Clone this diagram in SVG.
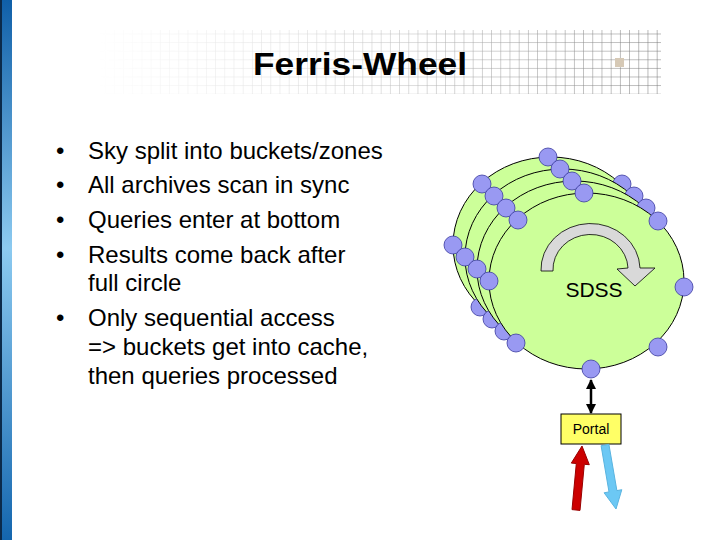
<svg xmlns="http://www.w3.org/2000/svg" width="720" height="540" viewBox="0 0 720 540">
<defs>
<linearGradient id="bar" x1="0" y1="0" x2="0" y2="1">
<stop offset="0" stop-color="#0f5fa8"/>
<stop offset="0.46" stop-color="#8ccaf0"/>
<stop offset="1" stop-color="#1466ae"/>
</linearGradient>
<linearGradient id="fadeG" x1="0" y1="0" x2="1" y2="0">
<stop offset="0" stop-color="#fff" stop-opacity="0"/>
<stop offset="0.35" stop-color="#fff" stop-opacity="0.25"/>
<stop offset="1" stop-color="#fff" stop-opacity="0.95"/>
</linearGradient>
<mask id="fade" maskUnits="userSpaceOnUse" x="0" y="0" width="720" height="540">
<rect x="95" y="28" width="566" height="68" fill="url(#fadeG)"/>
</mask>
<pattern id="grid" width="9.2" height="8.6" patternUnits="userSpaceOnUse" x="95.5" y="33.5">
<path d="M0,0 H9.2 M0,0 V8.6" stroke="#6a6a6a" stroke-width="1" fill="none"/>
</pattern>
<marker id="ah" viewBox="0 0 10 10" refX="9" refY="5" markerWidth="4" markerHeight="4" orient="auto-start-reverse">
<path d="M0,0 L10,5 L0,10 Z" fill="#000"/>
</marker>
<style>
.ring{fill:#ccff99;stroke:#000;stroke-width:1}
.nd{fill:#9999f2;stroke:#3a3aa0;stroke-width:0.8}
.bul{font-family:"Liberation Sans",Arial,sans-serif;font-size:24px;fill:#000}
</style>
</defs>

<rect width="720" height="540" fill="#fff"/>
<g id="sidebar">
<rect x="0" y="0" width="12" height="540" fill="url(#bar)"/>
<rect x="0" y="0" width="2" height="540" fill="#0b2a4a"/>
</g>

<g id="title">
<rect x="95" y="30" width="566" height="64" fill="url(#grid)" mask="url(#fade)"/>
<rect x="615" y="58" width="9" height="9" fill="#d6c9b6"/>
<text x="253" y="75" font-family="Liberation Sans,Arial,sans-serif" font-weight="bold" font-size="32" textLength="214" lengthAdjust="spacingAndGlyphs">Ferris-Wheel</text>
</g>

<g id="bullets" class="bul">
<text x="56" y="159">•</text><text x="88" y="159">Sky split into buckets/zones</text>
<text x="56" y="193">•</text><text x="88" y="193">All archives scan in sync</text>
<text x="56" y="228">•</text><text x="88" y="228">Queries enter at bottom</text>
<text x="56" y="263">•</text><text x="88" y="263">Results come back after</text>
<text x="88" y="291">full circle</text>
<text x="56" y="326">•</text><text x="88" y="326">Only sequential access</text>
<text x="88" y="355">=&gt; buckets get into cache,</text>
<text x="88" y="384">then queries processed</text>
</g>

<g id="wheel-layer-3" transform="translate(-36,-36)">
<ellipse class="ring" cx="586.5" cy="281" rx="97.5" ry="88"/>
<circle class="nd" cx="584" cy="193" r="9"/>
<circle class="nd" cx="518" cy="220" r="9"/>
<circle class="nd" cx="489" cy="281" r="9"/>
<circle class="nd" cx="516" cy="343" r="9"/>
<circle class="nd" cx="658" cy="220" r="9"/>
</g>
<g id="wheel-layer-2" transform="translate(-24,-24)">
<ellipse class="ring" cx="586.5" cy="281" rx="97.5" ry="88"/>
<circle class="nd" cx="584" cy="193" r="9"/>
<circle class="nd" cx="518" cy="220" r="9"/>
<circle class="nd" cx="489" cy="281" r="9"/>
<circle class="nd" cx="516" cy="343" r="9"/>
<circle class="nd" cx="658" cy="220" r="9"/>
</g>
<g id="wheel-layer-1" transform="translate(-12,-12)">
<ellipse class="ring" cx="586.5" cy="281" rx="97.5" ry="88"/>
<circle class="nd" cx="584" cy="193" r="9"/>
<circle class="nd" cx="518" cy="220" r="9"/>
<circle class="nd" cx="489" cy="281" r="9"/>
<circle class="nd" cx="516" cy="343" r="9"/>
<circle class="nd" cx="658" cy="220" r="9"/>
</g>
<g id="wheel-sdss">
<ellipse class="ring" cx="586.5" cy="281" rx="97.5" ry="88"/>
<circle class="nd" cx="584" cy="193" r="9"/>
<circle class="nd" cx="518" cy="220" r="9"/>
<circle class="nd" cx="489" cy="281" r="9"/>
<circle class="nd" cx="516" cy="343" r="9"/>
<circle class="nd" cx="591" cy="369" r="9"/>
<circle class="nd" cx="658" cy="347" r="9"/>
<circle class="nd" cx="684" cy="287" r="9"/>
<circle class="nd" cx="658" cy="221" r="9"/>
<path d="M541,271 A49.5,46 0 0 1 640,268 L655,268 L635,286 L617,269 L628,268 A37.5,35 0 0 0 553,271 Z" fill="#d9d9d9" stroke="#000" stroke-width="0.8"/>
<text x="594" y="297" text-anchor="middle" font-family="Liberation Sans,Arial,sans-serif" font-size="21">SDSS</text>
</g>

<g id="portal">
<rect x="561" y="414" width="60" height="30" fill="#ffff66" stroke="#000" stroke-width="1"/>
<text x="591" y="434" text-anchor="middle" font-family="Liberation Sans,Arial,sans-serif" font-size="14">Portal</text>
</g>

<g id="connectors">
<line x1="591" y1="380" x2="591" y2="413" stroke="#000" stroke-width="2.5" marker-start="url(#ah)" marker-end="url(#ah)"/>
<polygon points="572,509.6 580,510.4 584.3,464.3 589.3,464.7 582,446 571.3,463.1 576.3,463.5" fill="#cc0000" stroke="#990000" stroke-width="1"/>
<polygon points="608.9,444.3 601.1,445.7 609,491.9 604.1,492.8 616,509 621.8,489.7 616.9,490.6" fill="#6cc8f4" stroke="#5ab4e0" stroke-width="1"/>
</g>
</svg>
